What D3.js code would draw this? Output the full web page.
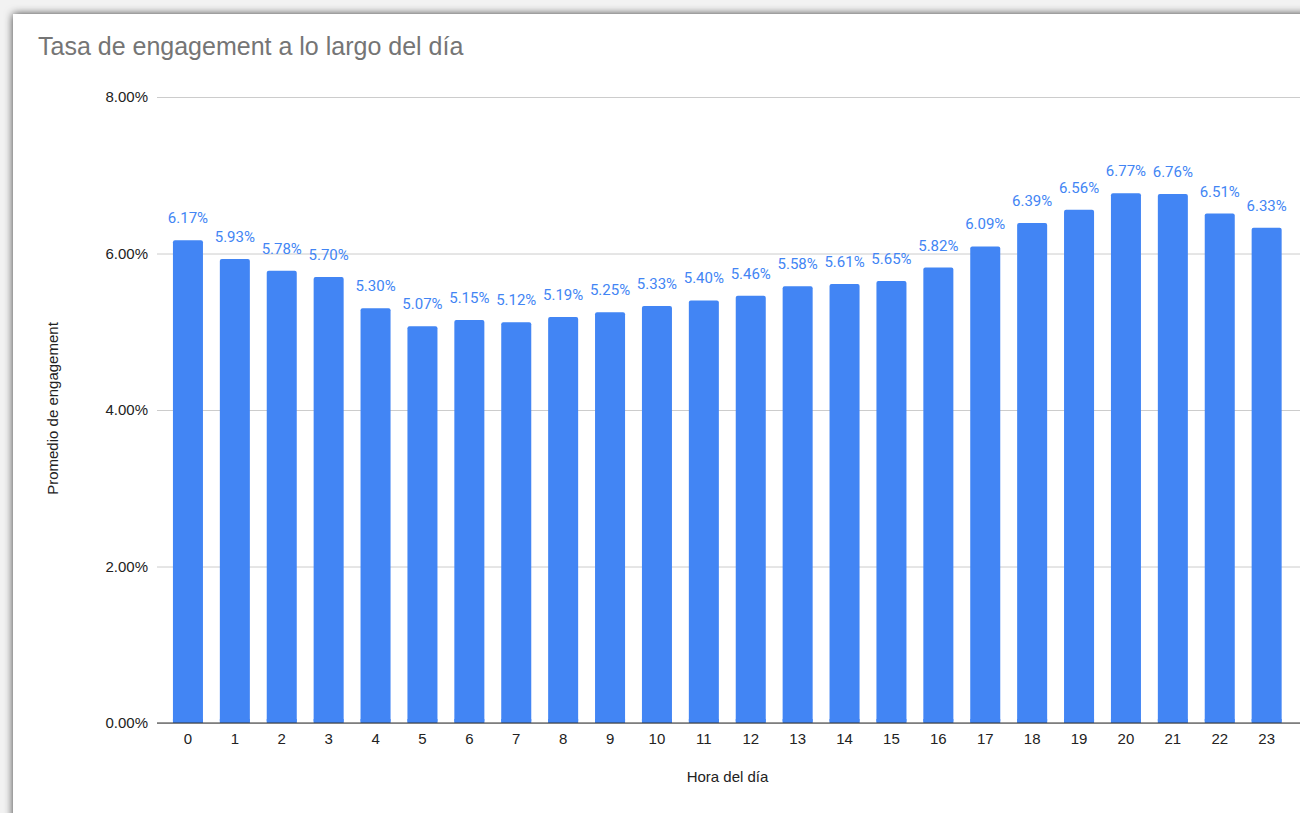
<!DOCTYPE html>
<html>

<head>
    <meta charset="utf-8">
    <title>Tasa de engagement a lo largo del día</title>
    <style type="text/css">
    body {
        margin: 0;
        background: #f2f2f2;
    }

    text {
        font-family: "Liberation Sans", Arial, sans-serif;
    }

    .tick text {
        font-size: 15px;
        fill: #222;
    }

    .label {
        font: 15px Roboto, sans-serif;
        fill: #4285f4;
    }
    </style>
</head>

<body>
    <svg width="1300" height="813"></svg>
    <script src="https://d3js.org/d3.v7.min.js"></script>
    <script type="text/javascript">
    // data
    var hours = ["0", "1", "2", "3", "4", "5", "6", "7", "8", "9", "10", "11",
        "12", "13", "14", "15", "16", "17", "18", "19", "20", "21", "22", "23"];
    var engagement = [6.17, 5.93, 5.78, 5.70, 5.30, 5.07, 5.15, 5.12, 5.19, 5.25, 5.33, 5.40,
        5.46, 5.58, 5.61, 5.65, 5.82, 6.09, 6.39, 6.56, 6.77, 6.76, 6.51, 6.33];
    var yTicks = [0, 2, 4, 6, 8];

    var svg = d3.select("svg"),
        left = 157,
        right = 1300;

    // card with a soft shadow, like the screenshot
    var defs = svg.append("defs");
    defs.append("filter").attr("id", "shadow")
        .attr("x", -0.05).attr("y", -0.05).attr("width", 1.1).attr("height", 1.1)
        .append("feDropShadow")
        .attr("dx", 0).attr("dy", 0)
        .attr("stdDeviation", 4)
        .attr("flood-color", "#000")
        .attr("flood-opacity", 0.75);

    svg.append("rect")
        .attr("x", 13).attr("y", 14)
        .attr("width", 1400).attr("height", 900)
        .attr("fill", "#fff")
        .attr("filter", "url(#shadow)");

    var x = d3.scaleBand()
        .domain(hours)
        .range([164.5, 1290.1])
        .paddingInner(0.36)
        .paddingOuter(0.18);

    var y = d3.scaleLinear()
        .domain([0, 8])
        .range([723, 97]);

    // title
    svg.append("text")
        .attr("x", 38).attr("y", 55)
        .style("font-size", "25px")
        .attr("fill", "#757575")
        .text("Tasa de engagement a lo largo del día");

    // y axis + gridlines
    var yAxis = svg.append("g")
        .attr("transform", "translate(" + left + ",0)")
        .call(d3.axisLeft(y)
            .tickValues(yTicks)
            .tickSize(-(right - left))
            .tickPadding(9)
            .tickFormat(function(d) { return d3.format(".2f")(d) + "%"; }));
    yAxis.select(".domain").remove();
    yAxis.selectAll(".tick line").attr("stroke", "#cccccc");

    // bars
    svg.append("g").selectAll("rect")
        .data(engagement)
        .join("rect")
        .attr("x", function(d, i) { return x(hours[i]); })
        .attr("y", function(d) { return y(d); })
        .attr("width", x.bandwidth())
        .attr("height", function(d) { return y(0) - y(d); })
        .attr("rx", 2)
        .attr("fill", "#4285f4");

    // cover the rounded bottom corners
    svg.append("g").selectAll("rect")
        .data(engagement)
        .join("rect")
        .attr("x", function(d, i) { return x(hours[i]); })
        .attr("y", y(0) - 4)
        .attr("width", x.bandwidth())
        .attr("height", 4)
        .attr("fill", "#4285f4");

    // baseline
    svg.append("line")
        .attr("x1", left).attr("x2", right)
        .attr("y1", y(0)).attr("y2", y(0))
        .attr("stroke", "#333");

    // x axis
    var xAxis = svg.append("g")
        .attr("transform", "translate(0," + y(0) + ")")
        .call(d3.axisBottom(x).tickSize(0).tickPadding(10));
    xAxis.select(".domain").remove();

    // data labels
    svg.append("g").selectAll("text")
        .data(engagement)
        .join("text")
        .attr("class", "label")
        .attr("text-anchor", "middle")
        .attr("x", function(d, i) { return x(hours[i]) + x.bandwidth() / 2; })
        .attr("y", function(d) { return y(d) - 17; })
        .text(function(d) { return d.toFixed(2) + "%"; });

    // axis titles
    svg.append("text")
        .attr("x", 727.5).attr("y", 782)
        .attr("text-anchor", "middle")
        .style("font-size", "15px")
        .attr("fill", "#222")
        .text("Hora del día");

    svg.append("text")
        .attr("transform", "translate(58,408.5) rotate(-90)")
        .attr("text-anchor", "middle")
        .style("font-size", "15px")
        .attr("fill", "#222")
        .text("Promedio de engagement");
    </script>
</body>

</html>
